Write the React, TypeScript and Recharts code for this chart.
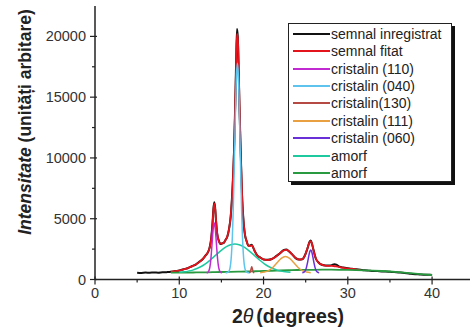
import { Legend, Line, LineChart, XAxis, YAxis } from "recharts";

type Pt = [number, number];

const xTicks = [0, 5, 10, 15, 20, 25, 30, 35, 40];
const yTicks = [0, 2500, 5000, 7500, 10000, 12500, 15000, 17500, 20000];

// semnal inregistrat
const recorded: Pt[] = [
  [5.0, 560], [5.5, 545], [6.0, 570], [6.5, 555], [7.0, 580], [7.5, 565], [8.0, 590], [8.5, 605],
  [9.0, 630], [9.5, 690], [10.0, 735], [10.5, 840], [11.0, 930], [11.5, 1090], [12.0, 1250],
  [12.4, 1470], [12.8, 1690], [13.1, 1960], [13.4, 2230], [13.6, 2620], [13.8, 3450], [13.95, 4700],
  [14.05, 5800], [14.15, 6350], [14.25, 5950], [14.35, 4950], [14.5, 3750], [14.7, 3180], [14.9, 2920],
  [15.1, 2980], [15.3, 3020], [15.5, 3280], [15.7, 3520], [15.9, 4150], [16.1, 5150], [16.3, 7300],
  [16.5, 10600], [16.65, 14700], [16.75, 18000], [16.85, 20600], [16.95, 19900], [17.05, 17300],
  [17.15, 14100], [17.3, 10300], [17.45, 6900], [17.6, 5050], [17.8, 3650], [18.0, 3150], [18.2, 2780],
  [18.4, 2800], [18.6, 2850], [18.8, 2580], [19.0, 2280], [19.3, 1930], [19.6, 1820], [20.0, 1640],
  [20.5, 1620], [21.0, 1690], [21.5, 1920], [22.0, 2180], [22.4, 2430], [22.7, 2460], [23.0, 2330],
  [23.4, 2070], [23.8, 1760], [24.2, 1650], [24.6, 1670], [24.9, 1970], [25.2, 2520], [25.45, 3080],
  [25.6, 3200], [25.75, 2920], [25.95, 2380], [26.2, 1730], [26.5, 1420], [26.9, 1210], [27.3, 1160],
  [27.8, 1150], [28.1, 1180], [28.4, 1260], [28.7, 1200], [29.0, 1050], [29.5, 980], [30.0, 930],
  [30.5, 880], [31.0, 840], [31.5, 800], [32.0, 760], [32.5, 730], [33.0, 700], [33.5, 690], [34.0, 660],
  [34.5, 650], [35.0, 630], [35.5, 610], [36.0, 580], [36.5, 560], [37.0, 520], [37.5, 470], [38.0, 440],
  [38.5, 420], [39.0, 400], [39.5, 390], [40.0, 380],
];

// semnal fitat
const fitted: Pt[] = [
  [9.0, 640], [9.5, 680], [10.0, 740], [10.5, 830], [11.0, 940], [11.5, 1080], [12.0, 1260], [12.4, 1450],
  [12.8, 1700], [13.1, 1950], [13.4, 2250], [13.6, 2600], [13.8, 3400], [13.95, 4600], [14.05, 5700],
  [14.15, 6250], [14.25, 5900], [14.35, 5000], [14.5, 3800], [14.7, 3150], [14.9, 2950], [15.1, 2950],
  [15.3, 3050], [15.5, 3250], [15.7, 3550], [15.9, 4100], [16.1, 5200], [16.3, 7200], [16.5, 10700],
  [16.65, 14500], [16.75, 17800], [16.85, 20200], [16.95, 19800], [17.05, 17500], [17.15, 14200],
  [17.3, 10200], [17.45, 7000], [17.6, 5000], [17.8, 3700], [18.0, 3100], [18.2, 2800], [18.4, 2750],
  [18.6, 2800], [18.8, 2600], [19.0, 2250], [19.3, 1950], [19.6, 1800], [20.0, 1650], [20.5, 1600],
  [21.0, 1700], [21.5, 1900], [22.0, 2200], [22.4, 2400], [22.7, 2440], [23.0, 2350], [23.4, 2050],
  [23.8, 1780], [24.2, 1640], [24.6, 1680], [24.9, 1950], [25.2, 2550], [25.45, 3050], [25.6, 3150],
  [25.75, 2950], [25.95, 2350], [26.2, 1750], [26.5, 1400], [26.9, 1220], [27.3, 1150], [27.8, 1120],
  [28.3, 1110], [28.8, 1050], [29.5, 960], [30.2, 900], [31.0, 820], [31.5, 780],
];

const peak110: Pt[] = [
  [13.25, 558], [13.35, 575], [13.45, 632], [13.55, 780], [13.65, 1104], [13.75, 1690], [13.85, 2547],
  [13.95, 3527], [14.05, 4334], [14.15, 4650], [14.25, 4334], [14.35, 3527], [14.45, 2547], [14.55, 1690],
  [14.65, 1104], [14.75, 780], [14.85, 632], [14.95, 575], [15.05, 558],
];

const peak040: Pt[] = [
  [15.5, 553], [15.7, 570], [15.9, 681], [16.0, 878], [16.1, 1309], [16.2, 2128], [16.3, 3517], [16.4, 5640],
  [16.5, 8450], [16.6, 11660], [16.7, 14750], [16.8, 16970], [16.9, 17800], [17.0, 16970], [17.1, 14750],
  [17.2, 11660], [17.3, 8450], [17.4, 5640], [17.5, 3517], [17.6, 2128], [17.7, 1309], [17.8, 878],
  [17.9, 681], [18.1, 570], [18.3, 553],
];

const peak130: Pt[] = [
  [18.3, 555], [18.4, 600], [18.5, 800], [18.6, 1050], [18.7, 800], [18.8, 600], [18.9, 555],
];

const peak111: Pt[] = [
  [19.6, 565], [20.1, 609], [20.6, 732], [21.1, 989], [21.6, 1370], [22.1, 1740], [22.6, 1900],
  [23.1, 1740], [23.6, 1370], [24.1, 989], [24.6, 732], [25.1, 609], [25.6, 565],
];

const peak060: Pt[] = [
  [24.6, 558], [24.7, 571], [24.8, 604], [24.9, 673], [25.0, 802], [25.1, 1016], [25.2, 1319], [25.3, 1685],
  [25.4, 2046], [25.5, 2319], [25.6, 2420], [25.7, 2319], [25.8, 2046], [25.9, 1685], [26.0, 1319],
  [26.1, 1016], [26.2, 802], [26.3, 673], [26.4, 604], [26.5, 571], [26.6, 558],
];

// amorf (broad hump)
const amorfA: Pt[] = [
  [10.0, 589], [10.6, 628], [11.1, 690], [11.6, 773], [12.1, 900], [12.6, 1071], [13.1, 1290], [13.6, 1562],
  [14.1, 1860], [14.6, 2173], [15.1, 2460], [15.6, 2707], [16.1, 2866], [16.6, 2920], [17.1, 2866],
  [17.6, 2707], [18.1, 2460], [18.6, 2173], [19.1, 1860], [19.6, 1562], [20.1, 1290], [20.6, 1071],
  [21.1, 900], [21.6, 773], [22.1, 690], [22.6, 628], [23.2, 589],
];

// amorf (background)
const amorfB: Pt[] = [
  [9, 560], [10, 565], [11, 570], [12, 580], [13, 590], [14, 600], [15, 615], [16, 630], [17, 645], [18, 660],
  [19, 680], [20, 700], [21, 720], [22, 740], [23, 760], [24, 780], [25, 790], [26, 800], [27, 805], [28, 805],
  [29, 800], [30, 790], [31, 775], [32, 755], [33, 730], [34, 700], [35, 660], [36, 610], [37, 550], [38, 490],
  [39, 430], [40, 370],
];

const series = [
  { name: "semnal inregistrat", data: recorded, color: "#111111", width: 2 },
  { name: "semnal fitat", data: fitted, color: "#e3141c", width: 1.8 },
  { name: "cristalin (110)", data: peak110, color: "#c02ad0", width: 1.5 },
  { name: "cristalin (040)", data: peak040, color: "#5ec4ee", width: 1.5 },
  { name: "cristalin(130)", data: peak130, color: "#b54a45", width: 1.5 },
  { name: "cristalin (111)", data: peak111, color: "#e8a040", width: 1.5 },
  { name: "cristalin (060)", data: peak060, color: "#6a30d8", width: 1.5 },
  { name: "amorf", data: amorfA, color: "#1fc9a0", width: 1.5 },
  { name: "amorf", data: amorfB, color: "#2a9a40", width: 1.8 },
];

// draw order: measured, fit, backgrounds, then peaks
const drawOrder = [0, 1, 8, 7, 3, 2, 4, 5, 6];

const font = "'Liberation Sans', Arial, sans-serif";
const axisColor = "#222";

const toRows = (pts: Pt[]) => pts.map(([x, y]) => ({ x, y }));

function BottomTick(props: any) {
  const { x, y, payload } = props;
  const major = payload.value % 10 === 0;
  return (
    <g>
      <line x1={x} x2={x} y1={y - (major ? 3 : 0)} y2={y + (major ? 5 : 3)} stroke={axisColor} strokeWidth={1.2} />
      {major && (
        <text x={x} y={y + 18} textAnchor="middle" fontSize={14.5} fill="#333" fontFamily={font}>
          {payload.value}
        </text>
      )}
    </g>
  );
}

function TopTick(props: any) {
  const { x, y } = props;
  return <line x1={x} x2={x} y1={y} y2={y + 4} stroke={axisColor} strokeWidth={1.2} />;
}

function LeftTick(props: any) {
  const { x, y, payload } = props;
  const major = payload.value % 5000 === 0;
  return (
    <g>
      <line x1={x - (major ? 5 : 3)} x2={x + (major ? 2 : 0)} y1={y} y2={y} stroke={axisColor} strokeWidth={1.2} />
      {major && (
        <text x={x - 9} y={y + 5} textAnchor="end" fontSize={14.5} fill="#333" fontFamily={font}>
          {payload.value}
        </text>
      )}
    </g>
  );
}

function RightTick(props: any) {
  const { x, y } = props;
  return <line x1={x - 4} x2={x} y1={y} y2={y} stroke={axisColor} strokeWidth={1.2} />;
}

function LegendBox() {
  return (
    <div
      style={{
        width: 164,
        height: 159,
        boxSizing: "border-box",
        border: "1px solid #222",
        boxShadow: "3px 3px 0 #111",
        background: "#fff",
        padding: "1px 0 0 4px",
        fontFamily: font,
        fontSize: 14,
        color: "#222",
      }}
    >
      {series.map((s, i) => (
        <div key={i} style={{ display: "flex", alignItems: "center", height: 17.45 }}>
          <svg width={37} height={4} style={{ display: "block" }}>
            <line x1={0} x2={37} y1={2} y2={2} stroke={s.color} strokeWidth={2} />
          </svg>
          <span style={{ marginLeft: 1, whiteSpace: "nowrap" }}>{s.name}</span>
        </div>
      ))}
    </div>
  );
}

export default function App() {
  return (
    <div style={{ position: "absolute", left: 0, top: 0, width: 471, height: 331, overflow: "hidden", background: "#fff" }}>
      <LineChart width={471} height={331} margin={{ top: 6, right: 1, bottom: 0, left: 0 }} style={{ fontFamily: font }}>
        <XAxis
          xAxisId="b"
          dataKey="x"
          type="number"
          domain={[0, 44.5]}
          ticks={xTicks}
          allowDataOverflow
          height={51.5}
          tickSize={0}
          tickMargin={0}
          tickLine={false}
          tick={BottomTick}
          axisLine={{ stroke: axisColor, strokeWidth: 1.5 }}
          interval={0}
        />
        <XAxis
          xAxisId="t"
          orientation="top"
          dataKey="x"
          type="number"
          domain={[0, 44.5]}
          ticks={xTicks}
          allowDataOverflow
          height={0}
          tickSize={0}
          tickMargin={0}
          tickLine={false}
          tick={TopTick}
          axisLine={{ stroke: axisColor, strokeWidth: 1.5 }}
          interval={0}
        />
        <YAxis
          yAxisId="l"
          type="number"
          domain={[0, 22500]}
          ticks={yTicks}
          allowDataOverflow
          width={95}
          tickSize={0}
          tickMargin={0}
          tickLine={false}
          tick={LeftTick}
          axisLine={{ stroke: axisColor, strokeWidth: 1.5 }}
          interval={0}
        />
        <YAxis
          yAxisId="r"
          orientation="right"
          type="number"
          domain={[0, 22500]}
          ticks={yTicks}
          allowDataOverflow
          width={0}
          tickSize={0}
          tickMargin={0}
          tickLine={false}
          tick={RightTick}
          axisLine={{ stroke: axisColor, strokeWidth: 1.5 }}
          interval={0}
        />
        {drawOrder.map((i) => {
          const s = series[i];
          return (
            <Line
              key={i}
              xAxisId="b"
              yAxisId="l"
              data={toRows(s.data)}
              dataKey="y"
              name={s.name}
              type="monotone"
              stroke={s.color}
              strokeWidth={s.width}
              dot={false}
              activeDot={false}
              isAnimationActive={false}
            />
          );
        })}
        <Legend
          layout="horizontal"
          verticalAlign="middle"
          align="center"
          wrapperStyle={{ left: 288, top: 23, width: 164, height: 159 }}
          content={() => <LegendBox />}
        />
        <text
          x={25}
          y={122}
          transform="rotate(-90 25 122)"
          textAnchor="middle"
          dominantBaseline="central"
          fontSize={17.5}
          fontWeight="bold"
          fill="#222"
          fontFamily={font}
        >
          <tspan fontStyle="italic">Intensitate</tspan>
          <tspan> (unități arbitare)</tspan>
        </text>
        <text x={288} y={323} textAnchor="middle" fontSize={19.5} fontWeight="bold" fill="#222" fontFamily={font}>
          <tspan>2</tspan>
          <tspan fontStyle="italic" fontWeight="normal">θ</tspan>
          <tspan dx={3}>(degrees)</tspan>
        </text>
      </LineChart>
    </div>
  );
}
